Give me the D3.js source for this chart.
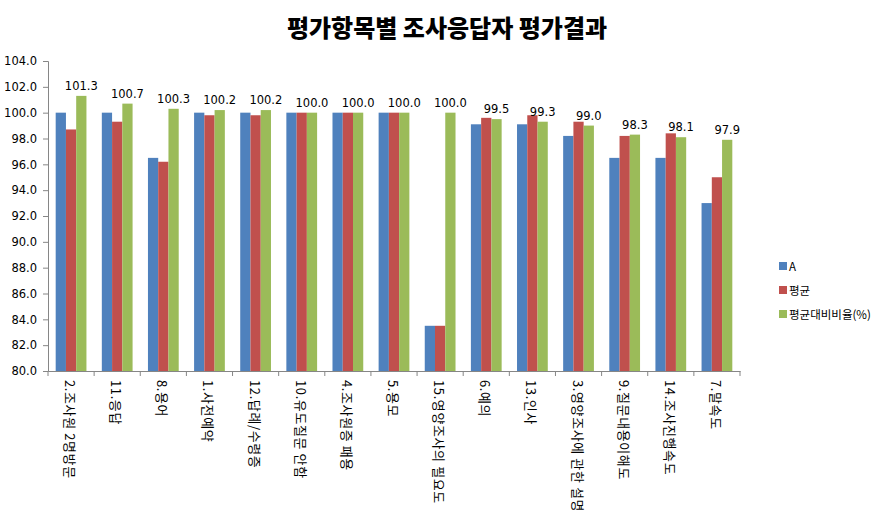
<!DOCTYPE html>
<html><head><meta charset="utf-8">
<script src="https://cdn.jsdelivr.net/npm/d3@7"></script>
<style>body{margin:0;background:#fff}svg{display:block}</style>
</head><body><svg id="c" width="886" height="529"></svg>
<script>
const categories = ["2.조사원 2명방문","11.응답","8.용어","1.사전예약","12.답례/수령증","10.유도질문 안함","4.조사원증 패용","5.용모","15.영양조사의 필요도","6.예의","13.인사","3.영양조사에 관한 설명","9.질문내용이해도","14.조사진행속도","7.말속도"];
const seriesA   = [100.0,100.0,96.5,100.0,100.0,100.0,100.0,100.0,83.5,99.1,99.1,98.2,96.5,96.5,93.0];
const seriesAvg = [98.7,99.3,96.2,99.8,99.8,100.0,100.0,100.0,83.5,99.6,99.8,99.3,98.2,98.4,95.0];
const seriesRatio = [101.3,100.7,100.3,100.2,100.2,100.0,100.0,100.0,100.0,99.5,99.3,99.0,98.3,98.1,97.9];
const seriesNames = ["A","평균","평균대비비율(%)"];
const yTicks = [80,82,84,86,88,90,92,94,96,98,100,102,104];
const colors = ["#4F81BD","#C0504D","#9BBB59"];
const title = "평가항목별 조사응답자 평가결과";

const svg = d3.select("#c");
const L = 48, R = 740, T = 61, B = 371;
const x = d3.scaleBand().domain(categories).range([L, R]).paddingInner(0).paddingOuter(0);
const inner = d3.scaleBand().domain([0,1,2]).range([0, x.bandwidth()]).paddingOuter(0.75).paddingInner(0);
const y = d3.scaleLinear().domain([80,104]).range([B, T]);
const series = [seriesA, seriesAvg, seriesRatio];

svg.append("text").attr("x", 447).attr("y", 37).attr("text-anchor","middle")
  .attr("font-family","'Noto Sans CJK KR'").attr("font-weight","900").attr("font-size",24)
  .attr("fill","#000").text(title);

// bars
series.forEach((s, si) => {
  svg.append("g").selectAll("rect").data(s).join("rect")
    .attr("x", (d,i) => x(categories[i]) + inner(si))
    .attr("width", inner.bandwidth())
    .attr("y", d => y(d))
    .attr("height", d => y(80) - y(d))
    .attr("fill", colors[si]);
});

// data labels on ratio
svg.append("g").selectAll("text").data(seriesRatio).join("text")
  .attr("x", (d,i) => x(categories[i]) + inner(2) + inner.bandwidth()/2)
  .attr("y", d => y(d) - 6)
  .attr("text-anchor","middle")
  .attr("font-family","'DejaVu Sans'").attr("font-size",11.5).attr("fill","#000")
  .text(d => d.toFixed(1));

// y axis
const ya = svg.append("g").attr("transform",`translate(${L},0)`)
  .call(d3.axisLeft(y).tickValues(yTicks).tickSize(5).tickPadding(6).tickFormat(d => d.toFixed(1)));
ya.select(".domain").attr("stroke","#868686");
ya.selectAll(".tick line").attr("stroke","#868686");
ya.selectAll(".tick text").attr("font-family","'DejaVu Sans'").attr("font-size",11.5).attr("fill","#000");

// x axis
const xa = svg.append("g").attr("transform",`translate(0,${B})`)
  .call(d3.axisBottom(x).tickSize(0).tickFormat(""));
xa.select(".domain").attr("stroke","#868686");
xa.selectAll(".tick").remove();
const bounds = d3.range(categories.length + 1).map(i => i === categories.length ? R : x(categories[i]));
xa.selectAll("line.sep").data(bounds).join("line").attr("class","sep")
  .attr("x1", d => d).attr("x2", d => d).attr("y1", 0).attr("y2", 5).attr("stroke","#868686");
xa.selectAll("text.lab").data(categories).join("text").attr("class","lab")
  .attr("transform", d => `translate(${x(d) + x.bandwidth()/2 - 6},${9}) rotate(90)`)
  .attr("font-family","'Noto Sans CJK KR'").attr("font-size",13).attr("letter-spacing",0.6).attr("fill","#000")
  .attr("text-anchor","start")
  .text(d => d);

// legend
const lg = svg.append("g").attr("transform","translate(779,262)");
seriesNames.forEach((n, i) => {
  const g = lg.append("g").attr("transform",`translate(0,${i*24})`);
  g.append("rect").attr("x",0).attr("y",0).attr("width",8).attr("height",8).attr("fill",colors[i]);
  g.append("text").attr("x",10).attr("y",8.5).attr("font-family","'Noto Sans CJK KR'")
    .attr("font-size",11.5).attr("fill","#000").text(n);
});
</script></body></html>
